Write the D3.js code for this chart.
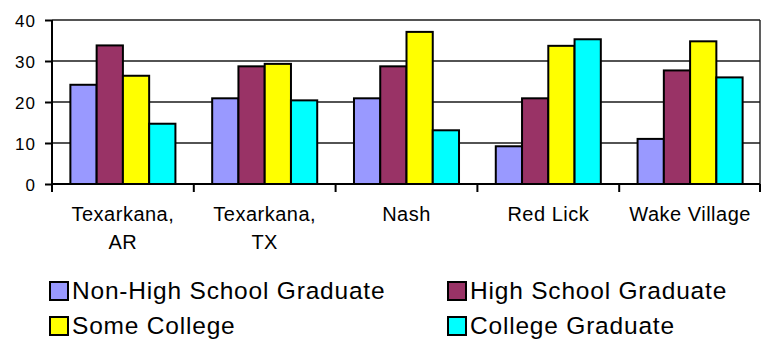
<!DOCTYPE html>
<html>
<head>
<meta charset="utf-8">
<script src="https://cdn.jsdelivr.net/npm/d3@7"></script>
<style>
  html, body { margin: 0; padding: 0; background: #fff; }
  svg { display: block; font-family: "Liberation Sans", Arial, sans-serif; }
</style>
</head>
<body>
<svg id="chart" width="761" height="343"></svg>
<script>
// Education attainment (%) by community
const categories = ["Texarkana,\nAR", "Texarkana,\nTX", "Nash", "Red Lick", "Wake Village"];
const seriesNames = ["Non-High School Graduate", "High School Graduate", "Some College", "College Graduate"];
const seriesColors = ["#9999FF", "#993366", "#FFFF00", "#00FFFF"];
const nonHighSchool = [24.2, 20.9, 20.9, 9.2, 11.0];
const highSchool = [33.8, 28.7, 28.7, 20.9, 27.7];
const someCollege = [26.4, 29.3, 37.1, 33.7, 34.8];
const collegeGrad = [14.7, 20.4, 13.1, 35.3, 26.0];
const yTicks = [0, 10, 20, 30, 40];

const seriesValues = [nonHighSchool, highSchool, someCollege, collegeGrad];

const svg = d3.select("#chart");
const plotLeft = 52, plotRight = 761, plotTop = 20, plotBottom = 184, frameRight = 760;

const x = d3.scaleBand().domain(categories).range([plotLeft, plotRight]).paddingInner(0).paddingOuter(0);
const xInner = d3.scaleBand().domain(seriesNames).range([0, x.bandwidth()]).paddingInner(0).paddingOuter(0.7);
const y = d3.scaleLinear().domain([0, 40]).range([plotBottom, plotTop]);

// horizontal gridlines
svg.append("g")
  .selectAll("line")
  .data(yTicks.filter(d => d > 0))
  .join("line")
  .attr("x1", plotLeft).attr("x2", frameRight)
  .attr("y1", d => y(d)).attr("y2", d => y(d))
  .attr("stroke", "#1a1a1a").attr("stroke-width", 1.4);

// right frame edge
svg.append("line")
  .attr("x1", frameRight).attr("x2", frameRight).attr("y1", plotTop).attr("y2", plotBottom)
  .attr("stroke", "#1a1a1a").attr("stroke-width", 1.4);

// bars
const groups = svg.append("g")
  .selectAll("g")
  .data(categories)
  .join("g")
  .attr("transform", d => `translate(${x(d)},0)`);

groups.selectAll("rect")
  .data((d, i) => seriesNames.map((s, j) => ({ s, v: seriesValues[j][i], c: seriesColors[j] })))
  .join("rect")
  .attr("x", d => xInner(d.s))
  .attr("width", xInner.bandwidth())
  .attr("y", d => y(d.v))
  .attr("height", d => y(0) - y(d.v))
  .attr("fill", d => d.c)
  .attr("stroke", "#000")
  .attr("stroke-width", 2);

// y axis
const yAxis = svg.append("g")
  .attr("transform", `translate(${plotLeft},0)`)
  .call(d3.axisLeft(y).tickValues(yTicks).tickSize(7).tickPadding(0).tickFormat(d3.format("d")));
yAxis.select(".domain").attr("stroke", "#000").attr("stroke-width", 2).attr("d", `M0,${plotTop}V${plotBottom}`);
yAxis.selectAll(".tick line").attr("stroke", "#000").attr("stroke-width", 2);
yAxis.selectAll(".tick text")
  .attr("x", -16)
  .attr("dy", "0.36em")
  .attr("fill", "#000")
  .style("font-size", "17px")
  .style("letter-spacing", "1px")
  .style("font-family", "'Liberation Sans', Arial, sans-serif");

// x axis
const xAxis = svg.append("g")
  .attr("transform", `translate(0,${plotBottom})`)
  .call(d3.axisBottom(x).tickSize(0).tickFormat(""));
xAxis.select(".domain").attr("stroke", "#000").attr("stroke-width", 2).attr("d", `M${plotLeft},0H${frameRight}`);
xAxis.selectAll(".tick").remove();

// boundary ticks between categories
const boundaries = categories.map(c => x(c)).concat([x(categories[categories.length - 1]) + x.bandwidth()]);
svg.append("g")
  .selectAll("line")
  .data(boundaries)
  .join("line")
  .attr("x1", d => Math.min(d, frameRight)).attr("x2", d => Math.min(d, frameRight))
  .attr("y1", plotBottom).attr("y2", plotBottom + 8)
  .attr("stroke", "#000").attr("stroke-width", 2);

// category labels
const labels = svg.append("g")
  .selectAll("text")
  .data(categories)
  .join("text")
  .attr("x", d => x(d) + x.bandwidth() / 2)
  .attr("y", 221)
  .attr("text-anchor", "middle")
  .attr("fill", "#000")
  .style("font-size", "20px")
  .style("letter-spacing", "0.5px");
labels.selectAll("tspan")
  .data(d => d.split("\n").map((t, i) => ({ t, i, d })))
  .join("tspan")
  .attr("x", d => x(d.d) + x.bandwidth() / 2)
  .attr("dy", d => d.i === 0 ? 0 : 28)
  .text(d => d.t);

// legend
const legendPos = [
  { x: 50, y: 282 }, { x: 448, y: 282 },
  { x: 50, y: 317 }, { x: 448, y: 317 }
];
const legend = svg.append("g")
  .selectAll("g")
  .data(seriesNames)
  .join("g")
  .attr("transform", (d, i) => `translate(${legendPos[i].x},${legendPos[i].y})`);
legend.append("rect")
  .attr("width", 18).attr("height", 18)
  .attr("fill", (d, i) => seriesColors[i])
  .attr("stroke", "#000").attr("stroke-width", 2);
legend.append("text")
  .attr("x", 22).attr("y", 17)
  .attr("fill", "#000")
  .style("font-size", "24.5px")
  .style("letter-spacing", "0.8px")
  .text(d => d);
</script>
</body>
</html>
